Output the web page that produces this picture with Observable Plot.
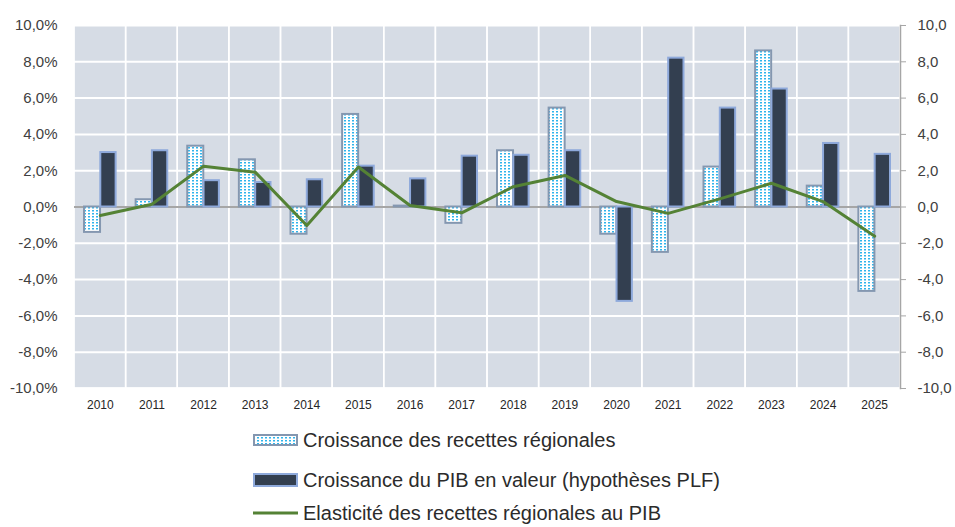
<!DOCTYPE html>
<html><head><meta charset="utf-8">
<script src="https://cdn.jsdelivr.net/npm/d3@7"></script>
<script src="https://cdn.jsdelivr.net/npm/@observablehq/plot@0.6"></script>
<style>
body{margin:0;background:#fff;font-family:"Liberation Sans",Arial,sans-serif;}
#wrap{position:relative;width:955px;height:527px;overflow:hidden;}
#chart{position:absolute;left:0;top:0;}
.item{position:absolute;left:253px;display:flex;align-items:center;white-space:nowrap;font-size:20px;color:#2b2b2b;height:24px;line-height:24px;}
.item svg{margin-right:5px;}
</style></head><body>
<svg width="0" height="0" style="position:absolute">
  <defs>
    <pattern id="dots" patternUnits="userSpaceOnUse" width="4" height="3">
      <rect width="4" height="3" fill="#ffffff"></rect>
      <rect x="0" y="0" width="2" height="1.5" fill="#2FB4EC"></rect>
    </pattern>
  </defs>
</svg>
<div id="wrap"><div id="chart"></div><div id="legend"></div></div>
<script>
const years = [2010,2011,2012,2013,2014,2015,2016,2017,2018,2019,2020,2021,2022,2023,2024,2025];
const recettes = [-1.4, 0.4, 3.35, 2.6, -1.5, 5.1, 0.05, -0.9, 3.1, 5.45, -1.5, -2.5, 2.2, 8.6, 1.15, -4.65];
const pib = [3.0, 3.1, 1.45, 1.35, 1.5, 2.25, 1.55, 2.8, 2.85, 3.1, -5.2, 8.2, 5.45, 6.5, 3.5, 2.9];
const elasticite = [-0.47, 0.15, 2.25, 1.92, -1.02, 2.2, 0.08, -0.32, 1.12, 1.74, 0.3, -0.35, 0.45, 1.31, 0.3, -1.61];
const yTicks = [-10,-8,-6,-4,-2,0,2,4,6,8,10];
const seriesNames = ["Croissance des recettes régionales","Croissance du PIB en valeur (hypothèses PLF)","Elasticité des recettes régionales au PIB"];

const data = years.map((y,i)=>({year:y, recettes:recettes[i], pib:pib[i], elasticite:elasticite[i]}));
const fmt = d => d.toFixed(1).replace(".", ",");

const plot = Plot.plot({
  width:955, height:420,
  marginTop:25, marginBottom:32, marginLeft:74, marginRight:55,
  style:{fontFamily:'"Liberation Sans",Arial,sans-serif', fontSize:"15px", color:"#404040", background:"transparent"},
  x:{type:"band", domain:years, padding:0, round:false, label:null},
  y:{domain:[-10,10], label:null},
  marks:[
    Plot.frame({fill:"#D6DCE5"}),
    Plot.gridY({ticks:yTicks, stroke:"white", strokeOpacity:1, strokeWidth:2}),
    Plot.barY(years, {x:d=>d, y1:-10, y2:10, fill:"none", stroke:"white", strokeWidth:1.5}),
    Plot.ruleY([0], {stroke:"#A6A6A6", strokeWidth:2}),
    Plot.barY(data, {x:"year", y:"recettes", fill:"url(#dots)", stroke:"#8497B0", strokeWidth:2, insetLeft:10, insetRight:25.6}),
    Plot.barY(data, {x:"year", y:"pib", fill:"#333F50", stroke:"#8EA9DB", strokeWidth:2, insetLeft:26.3, insetRight:10}),
    Plot.line(data, {x:"year", y:"elasticite", stroke:"#548235", strokeWidth:3}),
    Plot.axisY({ticks:yTicks, tickFormat:d=>fmt(d)+"%", tickSize:0, tickPadding:17, anchor:"left", label:null}),
    Plot.axisY({ticks:yTicks, tickFormat:fmt, anchor:"right", tickSize:5, tickPadding:12, stroke:"#A6A6A6", label:null}),
    Plot.frame({anchor:"right", stroke:"#A6A6A6", strokeWidth:1.5}),
    Plot.axisX({tickSize:0, tickPadding:12, fontSize:12, label:null, fill:"#262626", tickFormat:d=>String(d)})
  ]
});
document.getElementById("chart").appendChild(plot);

const legend = document.getElementById("legend");
const swatches = [
  '<svg width="45" height="12"><rect x="1" y="1" width="43" height="10" fill="url(#dots)" stroke="#8497B0" stroke-width="2"/></svg>',
  '<svg width="45" height="14"><rect x="1" y="1" width="43" height="12" fill="#333F50" stroke="#8EA9DB" stroke-width="2"/></svg>',
  '<svg width="45" height="6"><line x1="0" x2="45" y1="3" y2="3" stroke="#548235" stroke-width="3"/></svg>'
];
const tops = [428, 468, 501];
seriesNames.forEach((name,i)=>{
  const d = document.createElement("div");
  d.className = "item";
  d.style.top = tops[i] + "px";
  d.innerHTML = swatches[i] + "<span>" + name + "</span>";
  legend.appendChild(d);
});
</script>
</body></html>
